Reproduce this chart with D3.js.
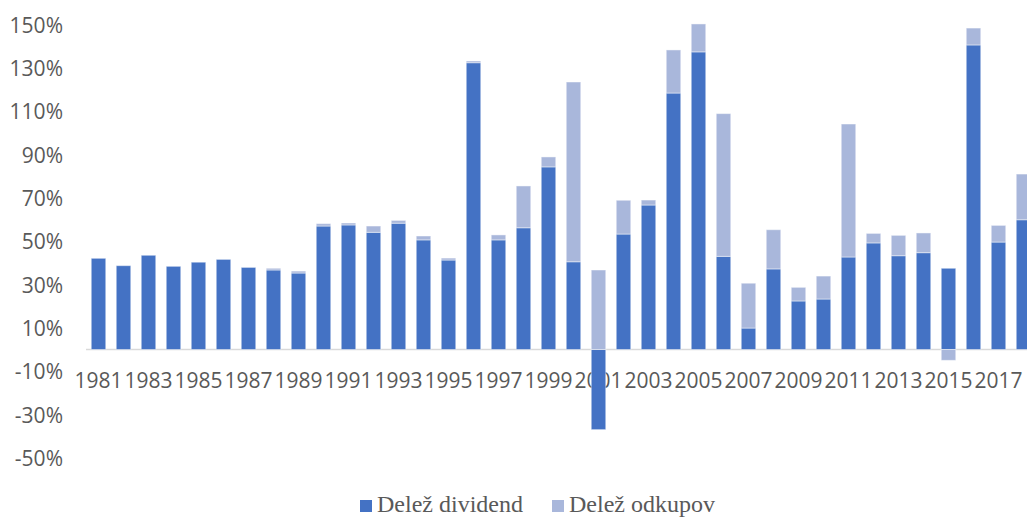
<!DOCTYPE html>
<html>
<head>
<meta charset="utf-8">
<script src="https://cdn.jsdelivr.net/npm/d3@7"></script>
<style>
  html, body { margin: 0; padding: 0; background: #fff; }
  svg { display: block; }
</style>
</head>
<body>
<svg id="chart" width="1027" height="518"></svg>
<script>
// Years on the category axis
const years = d3.range(1981, 2019);

// Share of dividends in net income (%)
const dividendShare = [
  42.1, 38.7, 43.5, 38.4, 40.3, 41.6, 37.9, 36.7, 35.3, 57.0,
  57.5, 54.1, 58.3, 50.6, 41.3, 132.4, 50.6, 56.2, 84.3, 40.5,
  -37.0, 53.3, 66.7, 118.4, 137.4, 43.0, 9.9, 37.2, 22.4, 23.3,
  42.7, 49.2, 43.3, 44.7, 37.5, 140.6, 49.6, 59.9
];

// Share of share buybacks in net income (%)
const buybackShare = [
  0, 0, 0, 0, 0, 0, 0, 0.8, 0.9, 1.1,
  0.9, 2.9, 1.3, 1.8, 0.9, 0.8, 2.3, 19.3, 4.6, 83.0,
  36.7, 15.6, 2.3, 19.9, 12.9, 65.9, 20.7, 18.1, 6.3, 10.6,
  61.4, 4.4, 9.4, 9.1, -5.0, 7.8, 7.7, 21.1
];

// Axis ticks
const yTicks = [-50, -30, -10, 10, 30, 50, 70, 90, 110, 130, 150];
const xTickYears = years.filter(y => (y - 1981) % 2 === 0);

const seriesNames = ["Delež dividend", "Delež odkupov"];
const seriesColors = ["#4472C4", "#A9B7DB"];

const rows = years.map((y, i) => ({ year: y, div: dividendShare[i], buy: buybackShare[i] }));

const svg = d3.select("#chart");
const labelColor = "#595959";
const tickFont = "'Open Sans', sans-serif";

const x = d3.scaleBand()
  .domain(years)
  .range([86, 1036])
  .paddingInner(0.42)
  .paddingOuter(0.21);

const y = d3.scaleLinear()
  .domain([-50, 150])
  .range([457.8, 24.6]);

// Value axis labels
const yAxis = d3.axisLeft(y)
  .tickValues(yTicks)
  .tickSize(0)
  .tickPadding(0)
  .tickFormat(d => d + "%");

svg.append("g")
  .attr("transform", "translate(63,0)")
  .call(yAxis)
  .call(g => g.select(".domain").remove())
  .call(g => g.selectAll("text")
    .attr("fill", labelColor)
    .attr("font-family", tickFont)
    .attr("font-size", 21)
    .attr("dy", "0.36em"));

// Category axis labels (every other year)
const xAxis = d3.axisBottom(x)
  .tickValues(xTickYears)
  .tickSize(0)
  .tickPadding(0);

svg.append("g")
  .attr("transform", "translate(0,373)")
  .call(xAxis)
  .call(g => g.select(".domain").remove())
  .call(g => g.selectAll("text")
    .attr("fill", labelColor)
    .attr("font-family", tickFont)
    .attr("font-size", 21)
    .attr("dy", "0.71em"));

// Zero line
svg.append("line")
  .attr("x1", 86).attr("x2", 1036)
  .attr("y1", y(0)).attr("y2", y(0))
  .attr("stroke", "#D9D9D9")
  .attr("stroke-width", 1.5);

// Stacked bars, negatives stacked below zero
const stack = d3.stack()
  .keys(["div", "buy"])
  .offset(d3.stackOffsetDiverging);
const stacked = stack(rows);

svg.append("g")
  .selectAll("g")
  .data(stacked)
  .join("g")
  .attr("fill", (d, i) => seriesColors[i])
  .selectAll("rect")
  .data(d => d)
  .join("rect")
  .attr("x", d => x(d.data.year))
  .attr("width", x.bandwidth())
  .attr("y", d => y(Math.max(d[0], d[1])))
  .attr("height", d => Math.abs(y(d[0]) - y(d[1])))
  .attr("stroke", "rgba(255,255,255,0.45)")
  .attr("stroke-width", 1);

// Legend
const legendX = [360, 552];
const legend = svg.append("g");
seriesNames.forEach((name, i) => {
  legend.append("rect")
    .attr("x", legendX[i]).attr("y", 500)
    .attr("width", 12).attr("height", 12)
    .attr("fill", seriesColors[i]);
  legend.append("text")
    .attr("x", legendX[i] + 17).attr("y", 512)
    .attr("font-family", "'Liberation Serif', 'Times New Roman', serif")
    .attr("font-size", 24)
    .attr("fill", labelColor)
    .text(name);
});
</script>
</body>
</html>
